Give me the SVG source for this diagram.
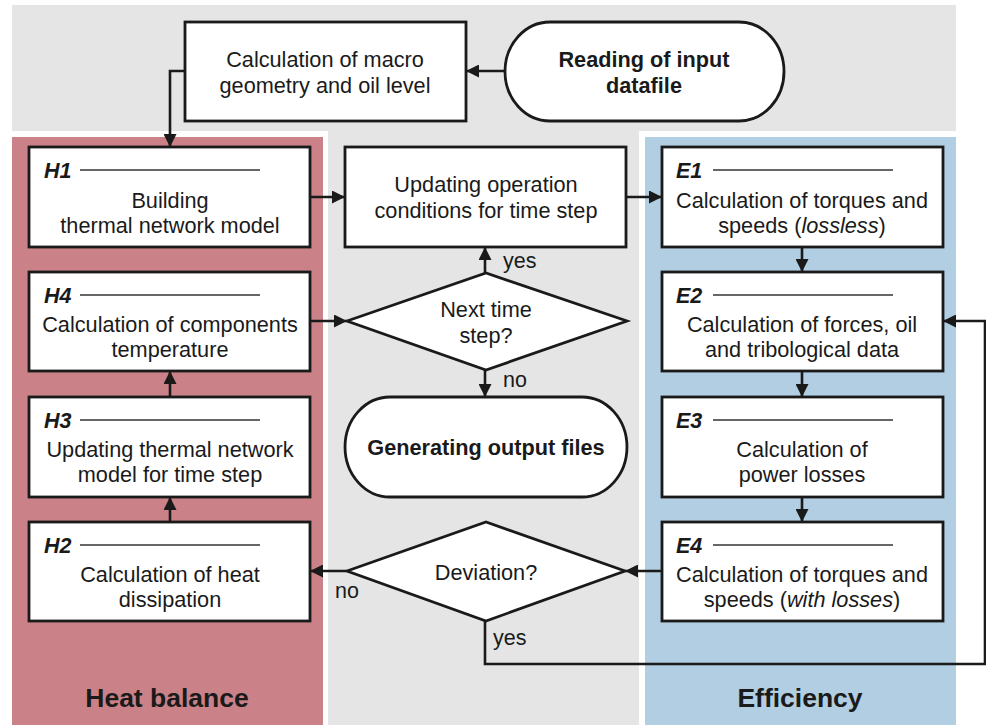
<svg xmlns="http://www.w3.org/2000/svg" width="986" height="725" viewBox="0 0 986 725">
<defs>
<style>
.box{fill:#fff;stroke:#1a1a1a;stroke-width:2.8}
.t{font-family:"Liberation Sans",Arial,sans-serif;font-size:21.7px;fill:#1a1a1a;text-anchor:middle}
.b{font-weight:bold}
.lab{font-family:"Liberation Sans",Arial,sans-serif;font-size:21.5px;fill:#1a1a1a;font-weight:bold;font-style:italic}
.hl{stroke:#333;stroke-width:1.3}
.c{fill:none;stroke:#1a1a1a;stroke-width:2.6}
.title{font-family:"Liberation Sans",Arial,sans-serif;font-size:26.5px;font-weight:bold;fill:#1a1a1a;text-anchor:middle}
.sm{font-family:"Liberation Sans",Arial,sans-serif;font-size:21.5px;fill:#1a1a1a}
</style>
<marker id="ah" viewBox="0 0 13 13" refX="13" refY="6.5" markerWidth="13" markerHeight="13" markerUnits="userSpaceOnUse" orient="auto">
<path d="M0,0 L13,6.5 L0,13 Z" fill="#1a1a1a"/>
</marker>
</defs>

<g id="background">
<rect x="12" y="5" width="944" height="720" fill="#e5e5e5"/>
<rect x="12" y="131" width="316" height="594" fill="#fff"/>
<rect x="12" y="137" width="311" height="588" fill="#ca8288"/>
<rect x="639" y="131" width="317" height="594" fill="#fff"/>
<rect x="645" y="137" width="311" height="588" fill="#b2cee2"/>
<text class="title" x="167" y="707">Heat balance</text>
<text class="title" x="800" y="707">Efficiency</text>
</g>

<g id="connectors">
<path class="c" d="M505,71 H466" marker-end="url(#ah)"/>
<path class="c" d="M185,71 H170 V147" marker-end="url(#ah)"/>
<path class="c" d="M310,197 H345" marker-end="url(#ah)"/>
<path class="c" d="M626,197 H662" marker-end="url(#ah)"/>
<path class="c" d="M802,247 V272" marker-end="url(#ah)"/>
<path class="c" d="M802,371 V397" marker-end="url(#ah)"/>
<path class="c" d="M802,497 V522" marker-end="url(#ah)"/>
<path class="c" d="M662,571 H625" marker-end="url(#ah)"/>
<path class="c" d="M347,571 H310" marker-end="url(#ah)"/>
<path class="c" d="M485,621 V664 H985 V321 H943" marker-end="url(#ah)"/>
<path class="c" d="M170,522 V497" marker-end="url(#ah)"/>
<path class="c" d="M170,397 V371" marker-end="url(#ah)"/>
<path class="c" d="M310,321 H347" marker-end="url(#ah)"/>
<path class="c" d="M485,273 V247" marker-end="url(#ah)"/>
<path class="c" d="M485,370 V397" marker-end="url(#ah)"/>
<text class="sm" x="503" y="268">yes</text>
<text class="sm" x="503" y="387">no</text>
<text class="sm" x="335" y="598">no</text>
<text class="sm" x="493" y="645">yes</text>
</g>

<g id="reading">
<path class="box" d="M550,22 H739 A45,49.5 0 0 1 739,121 H550 A45,49.5 0 0 1 550,22 Z"/>
<text class="t b" x="644" y="67">Reading of input</text>
<text class="t b" x="644" y="93">datafile</text>
</g>

<g id="macro">
<rect class="box" x="185" y="22" width="281" height="99"/>
<text class="t" x="325" y="67">Calculation of macro</text>
<text class="t" x="325" y="93">geometry and oil level</text>
</g>

<g id="H1">
<rect class="box" x="29" y="147" width="281" height="100"/>
<text class="lab" x="44" y="178">H1</text>
<line class="hl" x1="80" y1="170" x2="260" y2="170"/>
<text class="t" x="170" y="208">Building</text>
<text class="t" x="170" y="233">thermal network model</text>
</g>

<g id="H4">
<rect class="box" x="29" y="272" width="281" height="99"/>
<text class="lab" x="44" y="303">H4</text>
<line class="hl" x1="80" y1="295" x2="260" y2="295"/>
<text class="t" x="170" y="332">Calculation of components</text>
<text class="t" x="170" y="357">temperature</text>
</g>

<g id="H3">
<rect class="box" x="29" y="397" width="281" height="100"/>
<text class="lab" x="44" y="428">H3</text>
<line class="hl" x1="80" y1="420" x2="260" y2="420"/>
<text class="t" x="170" y="457">Updating thermal network</text>
<text class="t" x="170" y="482">model for time step</text>
</g>

<g id="H2">
<rect class="box" x="29" y="522" width="281" height="99"/>
<text class="lab" x="44" y="553">H2</text>
<line class="hl" x1="80" y1="545" x2="260" y2="545"/>
<text class="t" x="170" y="582">Calculation of heat</text>
<text class="t" x="170" y="607">dissipation</text>
</g>

<g id="updating">
<rect class="box" x="345" y="147" width="281" height="100"/>
<text class="t" x="486" y="192">Updating operation</text>
<text class="t" x="486" y="218">conditions for time step</text>
</g>

<g id="next-step">
<path class="box" d="M347,321 L486,273 L627,321 L486,370 Z"/>
<text class="t" x="486" y="317">Next time</text>
<text class="t" x="486" y="343">step?</text>
</g>

<g id="generating">
<path class="box" d="M390,397 H582 A45,50 0 0 1 582,497 H390 A45,50 0 0 1 390,397 Z"/>
<text class="t b" x="486" y="455">Generating output files</text>
</g>

<g id="deviation">
<path class="box" d="M347,571 L486,522 L625,571 L486,621 Z"/>
<text class="t" x="486" y="580">Deviation?</text>
</g>

<g id="E1">
<rect class="box" x="662" y="147" width="281" height="100"/>
<text class="lab" x="676" y="178">E1</text>
<line class="hl" x1="713" y1="170" x2="893" y2="170"/>
<text class="t" x="802" y="208">Calculation of torques and</text>
<text class="t" x="802" y="233">speeds (<tspan font-style="italic">lossless</tspan>)</text>
</g>

<g id="E2">
<rect class="box" x="662" y="272" width="281" height="99"/>
<text class="lab" x="676" y="303">E2</text>
<line class="hl" x1="713" y1="295" x2="893" y2="295"/>
<text class="t" x="802" y="332">Calculation of forces, oil</text>
<text class="t" x="802" y="357">and tribological data</text>
</g>

<g id="E3">
<rect class="box" x="662" y="397" width="281" height="100"/>
<text class="lab" x="676" y="428">E3</text>
<line class="hl" x1="713" y1="420" x2="893" y2="420"/>
<text class="t" x="802" y="457">Calculation of</text>
<text class="t" x="802" y="482">power losses</text>
</g>

<g id="E4">
<rect class="box" x="662" y="522" width="281" height="99"/>
<text class="lab" x="676" y="553">E4</text>
<line class="hl" x1="713" y1="545" x2="893" y2="545"/>
<text class="t" x="802" y="582">Calculation of torques and</text>
<text class="t" x="802" y="607">speeds (<tspan font-style="italic">with losses</tspan>)</text>
</g>
</svg>
